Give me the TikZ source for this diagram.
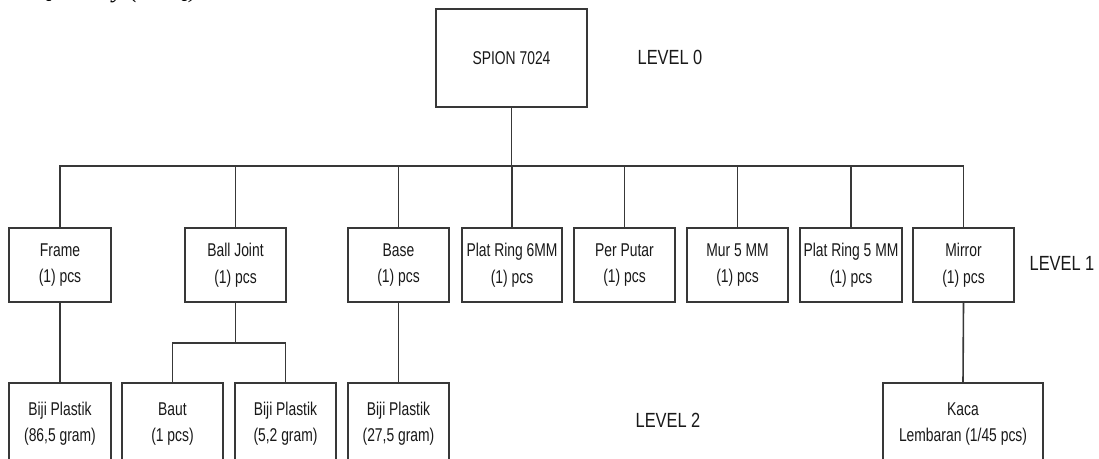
\documentclass[tikz,border=0pt]{standalone}
\usepackage{fontspec}
\newfontfamily\narfont[FakeStretch=0.75]{Liberation Sans}
\newfontfamily\lvlfont[FakeStretch=0.8]{Liberation Sans}
\newfontfamily\serifit[ItalicFont={Liberation Serif Italic}]{Liberation Serif}
\begin{document}
\begin{tikzpicture}[x=1pt,y=-1pt,
  box/.style={draw=black!78, line width=1.6pt, rectangle, inner sep=0pt, align=center,
    font=\narfont\fontsize{18.5}{26.5}\selectfont, text=black!90},
  lvl/.style={inner sep=0pt, font=\lvlfont\fontsize{20.5}{24}\selectfont, text=black!90},
  conn/.style={draw=black!78, line width=1.6pt}]
\useasboundingbox (0,0) rectangle (1099,458);
\clip (0,0) rectangle (1099,458);
\fill[white] (0,0) rectangle (1099,458);

% partially visible heading
\node[anchor=base west, inner sep=0pt, font=\serifit\itshape\fontsize{25}{28}\selectfont] (head) at (36,-3) {Quantity (POQ)};

% level 0
\node[box, minimum width=151pt, minimum height=98pt] (top) at (511.5,58) {SPION 7024};
\node[lvl] (l0) at (670,57) {LEVEL 0};

% level 1
\node[box, minimum width=102pt, minimum height=74pt] (frame) at (60,265) {Frame\\(1) pcs};
\node[box, minimum width=101pt, minimum height=74pt] (ball) at (235.5,265) {Ball Joint\\(1) pcs};
\node[box, minimum width=101pt, minimum height=74pt] (base) at (398.5,265) {Base\\(1) pcs};
\node[box, minimum width=100pt, minimum height=74pt] (pr6) at (512,265) {Plat Ring 6MM\\(1) pcs};
\node[box, minimum width=101pt, minimum height=74pt] (pp) at (624.5,265) {Per Putar\\(1) pcs};
\node[box, minimum width=101pt, minimum height=74pt] (mur) at (737.5,265) {Mur 5 MM\\(1) pcs};
\node[box, minimum width=102pt, minimum height=74pt] (pr5) at (851,265) {Plat Ring 5 MM\\(1) pcs};
\node[box, minimum width=101pt, minimum height=74pt] (mirror) at (963.5,265) {Mirror\\(1) pcs};
\node[lvl] (l1) at (1062,263) {LEVEL 1};

% level 2
\node[box, minimum width=102pt, minimum height=82pt, anchor=north] (bp1) at (60,382) {Biji Plastik\\(86,5 gram)};
\node[box, minimum width=101pt, minimum height=82pt, anchor=north] (baut) at (172.5,382) {Baut\\(1 pcs)};
\node[box, minimum width=101pt, minimum height=82pt, anchor=north] (bp2) at (285.5,382) {Biji Plastik\\(5,2 gram)};
\node[box, minimum width=101pt, minimum height=82pt, anchor=north] (bp3) at (398.5,382) {Biji Plastik\\(27,5 gram)};
\node[box, minimum width=160pt, minimum height=82pt, anchor=north] (kaca) at (963,382) {Kaca\\Lembaran (1/45 pcs)};
\node[lvl] (l2) at (668,420) {LEVEL 2};

% connectors level 0 -> level 1
\coordinate (bus) at (511.5,166);
\draw[conn] (top.south) -- (bus);
\foreach \n in {frame,ball,base,pr6,pp,mur,pr5,mirror}
  \draw[conn] (bus) -| (\n.north);

% level 1 -> level 2
\draw[conn] (frame.south) -- (bp1.north);
\draw[conn] (base.south) -- (bp3.north);
\draw[conn] (mirror.south) -- (kaca.north);
\coordinate (bjbus) at (235.5,343);
\draw[conn] (ball.south) -- (bjbus);
\draw[conn] (bjbus) -| (baut.north);
\draw[conn] (bjbus) -| (bp2.north);
\end{tikzpicture}
\end{document}
